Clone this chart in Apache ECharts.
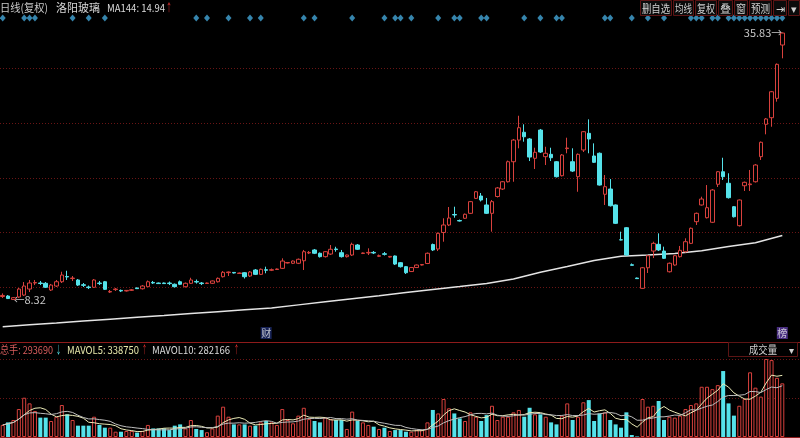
<!DOCTYPE html>
<html><head><meta charset="utf-8">
<script src="https://cdn.jsdelivr.net/npm/echarts@6/dist/echarts.min.js"></script>
<style>html,body{margin:0;padding:0;background:#000;}#c{width:800px;height:438px;}</style>
</head><body><div id="c"></div>
<script>
// ---- data ----
// candles: [open, close, lowest, highest]
const candles = [
[8.66,8.77,8.51,8.98],[8.71,8.45,8.40,8.81],[8.35,8.54,8.32,8.61],[8.61,9.43,8.51,9.54],[8.81,9.74,8.71,10.15],
[9.43,10.05,9.12,10.36],[10.05,10.10,9.84,10.36],[10.05,10.00,9.84,10.26],[10.02,9.61,9.54,10.15],[9.33,9.84,9.23,9.95],
[9.74,10.18,9.64,10.36],[10.18,10.87,10.05,11.21],[10.72,10.67,10.36,11.31],[10.51,10.56,10.26,10.77],[10.36,9.84,9.74,10.46],
[9.87,9.81,9.64,10.05],[9.64,9.58,9.43,9.79],[9.61,10.36,9.54,10.46],[10.05,9.99,9.84,10.26],[10.18,9.40,9.33,10.26],
[9.12,9.18,9.02,9.33],[9.37,9.43,9.23,9.54],[9.29,9.23,9.12,9.38],[9.23,9.29,9.17,9.33],[9.30,9.35,9.23,9.43],
[9.54,9.47,9.43,9.59],[9.46,9.74,9.38,9.84],[9.67,10.18,9.64,10.31],[10.11,10.05,9.95,10.26],[10.05,9.99,9.95,10.10],
[10.05,9.99,9.95,10.10],[10.05,9.99,9.84,10.20],[9.92,9.67,9.59,10.00],[10.18,9.92,9.84,10.31],[9.67,10.02,9.59,10.10],
[10.02,10.36,9.95,10.59],[10.21,10.15,9.99,10.41],[10.05,9.99,9.84,10.15],[10.00,10.05,9.95,10.10],[10.02,10.26,9.95,10.31],
[10.18,10.53,10.10,10.62],[10.70,11.15,10.62,11.28],[11.12,11.18,10.77,11.23],[11.14,11.08,11.03,11.18],[11.03,11.08,10.98,11.13],
[11.11,10.70,10.51,11.18],[10.77,11.18,10.67,11.28],[11.39,10.94,10.87,11.49],[10.94,11.46,10.87,11.54],[11.42,11.36,11.05,11.73],
[11.36,11.42,11.28,11.54],[11.44,11.49,11.39,11.54],[11.56,12.31,11.49,12.59],[12.11,12.16,12.06,12.21],[12.08,12.31,12.00,12.37],
[12.08,12.49,12.00,12.57],[12.34,13.27,11.39,13.45],[13.14,13.20,13.03,13.34],[13.45,13.11,13.03,13.55],[13.11,12.76,12.67,13.19],
[12.76,13.27,12.67,13.34],[13.03,13.52,12.93,13.96],[13.55,13.49,13.27,13.78],[13.17,12.76,12.67,13.45],[12.76,12.93,12.67,12.98],
[12.93,14.03,12.83,14.20],[13.96,13.52,13.45,14.06],[13.09,13.14,13.03,13.19],[13.14,13.20,12.93,13.62],[13.20,13.14,13.03,13.34],
[12.80,12.86,12.72,12.98],[13.06,13.00,12.88,13.24],[12.72,12.79,12.67,12.83],[12.83,12.00,11.90,12.88],[12.14,11.73,11.64,12.21],
[11.73,11.11,10.98,11.80],[11.23,11.64,11.18,11.70],[11.64,11.90,11.59,11.95],[11.90,11.95,11.85,12.00],[12.06,13.11,12.00,13.19],
[14.01,13.45,13.34,14.11],[13.55,15.16,13.34,15.25],[15.25,16.02,14.30,16.71],[16.02,16.74,15.91,17.87],[17.10,17.05,16.77,17.90],
[16.48,16.43,16.38,16.58],[16.71,17.12,16.64,17.20],[17.22,18.42,17.15,18.49],[18.76,19.44,18.69,19.52],[19.00,18.59,18.44,19.31],
[18.08,17.22,17.15,18.80],[17.22,18.42,15.33,18.59],[18.95,19.83,18.85,19.93],[19.72,20.47,19.62,20.55],[20.47,22.53,20.39,22.65],
[22.53,24.76,20.47,24.87],[24.76,26.03,23.91,27.26],[25.56,25.10,24.59,26.38],[24.87,23.01,22.60,24.97],[22.88,23.50,21.78,23.97],
[25.79,23.53,23.43,25.90],[23.05,23.40,22.19,24.07],[23.29,22.94,22.60,23.97],[22.53,20.99,20.91,22.60],[21.09,23.22,21.01,23.32],
[23.88,23.94,23.40,25.00],[22.53,21.57,21.47,23.91],[20.99,23.29,19.44,23.38],[23.74,25.62,23.53,25.69],[25.45,24.87,23.40,26.89],
[23.12,22.47,22.40,24.42],[23.40,20.13,20.08,23.48],[19.18,19.96,18.08,21.16],[19.72,18.00,17.92,20.75],[18.08,16.19,16.12,18.13],
[14.50,14.48,14.44,15.33],[15.74,12.93,12.83,15.81],[11.93,11.87,11.85,12.06],[10.56,10.50,10.46,10.61],[9.50,11.62,9.46,11.70],
[11.62,12.86,11.08,12.93],[13.34,14.13,12.62,14.30],[14.03,13.45,13.34,15.16],[13.34,12.59,12.52,13.79],[11.21,12.08,11.13,12.16],
[11.90,12.86,11.83,12.93],[12.76,13.41,12.67,13.86],[13.27,14.30,13.19,14.65],[14.13,15.68,14.06,15.76],[16.36,17.22,16.02,17.30],
[18.08,18.69,18.02,18.93],[16.77,17.80,16.69,20.13],[16.30,19.62,16.22,19.72],[20.21,21.50,19.93,21.57],[21.50,20.99,20.65,22.94],
[20.31,18.83,18.74,21.34],[17.90,16.87,16.79,17.97],[15.95,18.59,15.86,18.64],[20.06,20.41,19.52,20.49],[20.17,20.24,19.52,21.68],
[20.47,22.19,20.39,22.29],[23.05,24.53,22.71,24.61],[26.38,26.93,25.35,27.03],[27.06,29.73,26.13,29.81],[29.05,32.55,28.71,32.64],
[34.54,35.77,33.17,35.83]
];
// volume (手)
const volumes = [
66000,80000,93000,153000,215000,184000,142000,106000,106000,87500,
111000,175000,124000,93000,62000,62000,62000,111000,66000,51000,
51000,29000,29000,33000,33000,24000,33000,66000,47000,47000,
47000,38000,62000,69000,47000,93000,44000,38000,26000,47000,
117000,166000,111000,69000,69000,69000,62000,62000,80000,87500,
80000,66000,153000,93000,75000,117000,160000,98000,87500,80000,
106000,98000,93000,93000,44000,139000,87500,80000,66000,56500,
44000,51000,33000,38000,38000,29000,29000,38000,38000,80000,
148000,129000,208000,157000,129000,102000,87500,135000,111000,87500,
120000,171000,93000,111000,111000,135000,148000,111000,160000,124000,
124000,111000,80000,69000,117000,184000,93000,111000,190000,202000,
87500,129000,135000,93000,69000,51000,135000,11000,3000,208000,
166000,171000,197000,93000,111000,106000,117000,153000,175000,184000,
275000,275000,262000,284000,361000,184000,117000,171000,208000,354000,
270000,221000,427000,421000,324000,293690
];
// MA144: [candle index, value]
const ma144Points = [
[0,5.55],[5,5.75],[10,5.94],[15,6.14],[20,6.33],[25,6.52],[30,6.70],[35,6.90],[40,7.10],[45,7.29],
[50,7.48],[55,7.80],[60,8.12],[65,8.43],[70,8.74],[75,9.07],[80,9.38],[85,9.69],[90,10.01],[95,10.46],
[100,11.15],[105,11.75],[110,12.36],[115,12.80],[120,12.93],[125,13.09],[130,13.36],[135,13.81],[140,14.19],[145,14.94]
];
// info-mine diamonds (candle indices)
const infoMarks = [0,4,5,6,13,16,19,36,38,42,46,48,56,58,65,71,73,74,76,81,84,85,89,90,97,100,103,104,112,113,117,120,123,128,129,130,132,133,135,136,137,138,139,140,141,142,143,144,145];
// event tags at the bottom of the price panel
const eventTags = [[49,'财','#1d2a6a'],[145,'榜','#5a3aa0']];
const headerTexts = {name:'洛阳玻璃', period:'日线(复权)', ma:'MA144: 14.94', vol:'总手: 293690', mv5:'MAVOL5: 338750', mv10:'MAVOL10: 282166'};
const buttons = ['删自选','均线','复权','叠','窗','预测','⇥','▾'];

const categories = candles.map((_, i) => i);

// ---- styles ----
const RED = '#d8413d', CYAN = '#55e2ea', GRID = '#6a1515', SEP = '#8e1b1b';
const FONT = '"Noto Sans CJK SC", "Noto Sans", sans-serif';

function movAvg(arr, n) {
  return arr.map((_, i) => {
    const s = Math.max(0, i - n + 1);
    let t = 0; for (let k = s; k <= i; k++) t += arr[k];
    return +(t / (i - s + 1)).toFixed(0);
  });
}
const mv5 = movAvg(volumes, 5), mv10 = movAvg(volumes, 10);

let minI = 0, maxI = 0;
candles.forEach((c, i) => { if (c[2] < candles[minI][2]) minI = i; if (c[3] > candles[maxI][3]) maxI = i; });

const volData = volumes.map((v, i) => {
  const up = candles[i][1] >= candles[i][0];
  return { value: v, itemStyle: up ? { color: '#000', borderColor: RED, borderWidth: 1 } : { color: CYAN, borderColor: CYAN, borderWidth: 0 } };
});

const L = 0, R = 15;
const chart = echarts.init(document.getElementById('c'), null, { renderer: 'canvas' });

// text measuring, so that header texts fit the widths seen in the picture
const mctx = document.createElement('canvas').getContext('2d');
function measure(s, size) { mctx.font = size + 'px ' + FONT; return mctx.measureText(s).width; }

const g = [];
function txt(x, y, s, fill, size, w) {
  size = size || 11;
  const nat = measure(s, size);
  const sx = w ? Math.min(1.15, w / nat) : 1;
  g.push({ type: 'text', x: x, y: y, scaleX: sx, style: { text: s, fill: fill, font: size + 'px ' + FONT, textAlign: 'left', textVerticalAlign: 'middle' }, z: 100 });
}
function txtC(cx, y, s, fill, size, maxW) {
  size = size || 11;
  const nat = measure(s, size);
  const w = Math.min(nat, maxW);
  txt(cx - w / 2, y, s, fill, size, w);
}
txt(0, 8, headerTexts.period, '#c8c8c8', 11, 48);
txt(56, 8, headerTexts.name, '#d8d8d8', 11, 44);
txt(107, 8, headerTexts.ma, '#dcdcdc', 11, 58);
txt(166, 8, '↑', '#e03030', 11, 6);
const bx = [[640, 672], [673, 694], [695, 717], [718, 733], [734, 748], [749, 772], [773, 787], [788, 800]];
bx.forEach((b, k) => {
  g.push({ type: 'rect', shape: { x: b[0] + 0.5, y: 0.5, width: b[1] - b[0] - 1, height: 15 }, style: { fill: '#0b0b0b', stroke: '#5c1414', lineWidth: 1 }, z: 99 });
  txtC((b[0] + b[1]) / 2, 8.5, buttons[k], '#d0d0d0', 11, b[1] - b[0] - 4);
});
txt(0, 350, headerTexts.vol, '#d65c5c', 11, 53);
txt(56, 350, '↓', CYAN, 11, 5);
txt(67, 350, headerTexts.mv5, '#e6e6aa', 11, 72);
txt(142, 350, '↑', '#e03030', 11, 5);
txt(152, 350, headerTexts.mv10, '#d8d8d8', 11, 78);
txt(234, 350, '↑', '#e03030', 11, 5);
g.push({ type: 'rect', shape: { x: 728.5, y: 342.5, width: 69, height: 14 }, style: { fill: '#000', stroke: '#5c1414', lineWidth: 1 }, z: 99 });
txt(749, 350, '成交量', '#d0d0d0', 11, 28);
txtC(791, 350, '▾', '#d0d0d0', 10, 8);

const option = {
  backgroundColor: '#000',
  animation: false,
  textStyle: { fontFamily: FONT },
  grid: [
    { left: L, right: R, top: 14, height: 328 },      // 0 price
    { left: L, right: R, top: 342, height: 95 },      // 1 volume
    { left: L, right: R, top: 15, height: 6 },        // 2 info diamonds
    { left: L, right: R, top: 326, height: 14 },      // 3 event tags
    { left: 0, right: 0, top: 14, height: 328 },      // 4 price grid lines
    { left: 0, right: 0, top: 342, height: 95 }       // 5 volume grid lines
  ],
  xAxis: [
    { type: 'category', data: categories, gridIndex: 0, boundaryGap: true, show: false },
    { type: 'category', data: categories, gridIndex: 1, boundaryGap: true, show: false },
    { type: 'category', data: categories, gridIndex: 2, boundaryGap: true, show: false },
    { type: 'category', data: categories, gridIndex: 3, boundaryGap: true, show: false },
    { type: 'value', gridIndex: 4, min: 0, max: 1, axisLabel: { show: false }, axisTick: { show: false }, splitLine: { show: false }, axisLine: { show: true, lineStyle: { color: SEP, width: 1 } } },
    { type: 'value', gridIndex: 5, min: 0, max: 1, axisLabel: { show: false }, axisTick: { show: false }, splitLine: { show: false }, axisLine: { show: true, lineStyle: { color: SEP, width: 1 } } }
  ],
  yAxis: [
    { type: 'value', gridIndex: 0, min: 3.98, max: 37.73, show: false, splitLine: { show: false } },
    { type: 'value', gridIndex: 1, min: 0, max: 520000, show: false, splitLine: { show: false } },
    { type: 'value', gridIndex: 2, min: 0, max: 2, show: false },
    { type: 'value', gridIndex: 3, min: 0, max: 2, show: false },
    { type: 'value', gridIndex: 4, min: 0, max: 6, interval: 1, axisLine: { show: false }, axisLabel: { show: false }, axisTick: { show: false },
      splitLine: { show: true, showMinLine: false, showMaxLine: false, lineStyle: { color: GRID, type: [1, 2], width: 1 } } },
    { type: 'value', gridIndex: 5, min: 0, max: 95, interval: 39, axisLine: { show: false }, axisLabel: { show: false }, axisTick: { show: false },
      splitLine: { show: true, showMinLine: false, showMaxLine: false, lineStyle: { color: GRID, type: [1, 2], width: 1 } } }
  ],
  series: [
    {
      type: 'candlestick', xAxisIndex: 0, yAxisIndex: 0, data: candles, barWidth: 4,
      itemStyle: { color: '#000', color0: CYAN, borderColor: RED, borderColor0: CYAN, borderWidth: 1 },
      markPoint: {
        symbol: 'circle', symbolSize: 0, silent: true,
        data: [
          { coord: [minI, candles[minI][2]], label: { show: true, position: 'right', distance: 0, formatter: '←' + candles[minI][2].toFixed(2), color: '#c8c8c8', fontSize: 11 } },
          { coord: [maxI, candles[maxI][3]], label: { show: true, position: 'left', distance: 0, formatter: candles[maxI][3].toFixed(2) + '→', color: '#c8c8c8', fontSize: 11 } }
        ]
      },
      z: 5
    },
    { type: 'line', xAxisIndex: 0, yAxisIndex: 0, data: ma144Points, showSymbol: false, connectNulls: true, lineStyle: { color: '#e4e4e4', width: 1.5 }, z: 4 },
    { type: 'bar', xAxisIndex: 1, yAxisIndex: 1, data: volData, barWidth: 4, z: 3 },
    { type: 'line', xAxisIndex: 1, yAxisIndex: 1, data: mv5, showSymbol: false, lineStyle: { color: '#ececb8', width: 1 }, z: 6 },
    { type: 'line', xAxisIndex: 1, yAxisIndex: 1, data: mv10, showSymbol: false, lineStyle: { color: '#bdbdbd', width: 1 }, z: 6 },
    { type: 'scatter', xAxisIndex: 2, yAxisIndex: 2, data: infoMarks.map(i => [i, 1]), symbol: 'diamond', symbolSize: [6, 7], itemStyle: { color: '#44a6d8' }, silent: true },
    { type: 'scatter', xAxisIndex: 3, yAxisIndex: 3, data: eventTags.map(e => ({ value: [e[0], 1], name: e[1], itemStyle: { color: e[2] } })),
      symbol: 'rect', symbolSize: [11, 12], silent: true,
      label: { show: true, position: 'inside', formatter: p => p.name, color: '#e8e8e8', fontSize: 10 } }
  ],
  graphic: g
};
chart.setOption(option);
</script>
</body></html>
